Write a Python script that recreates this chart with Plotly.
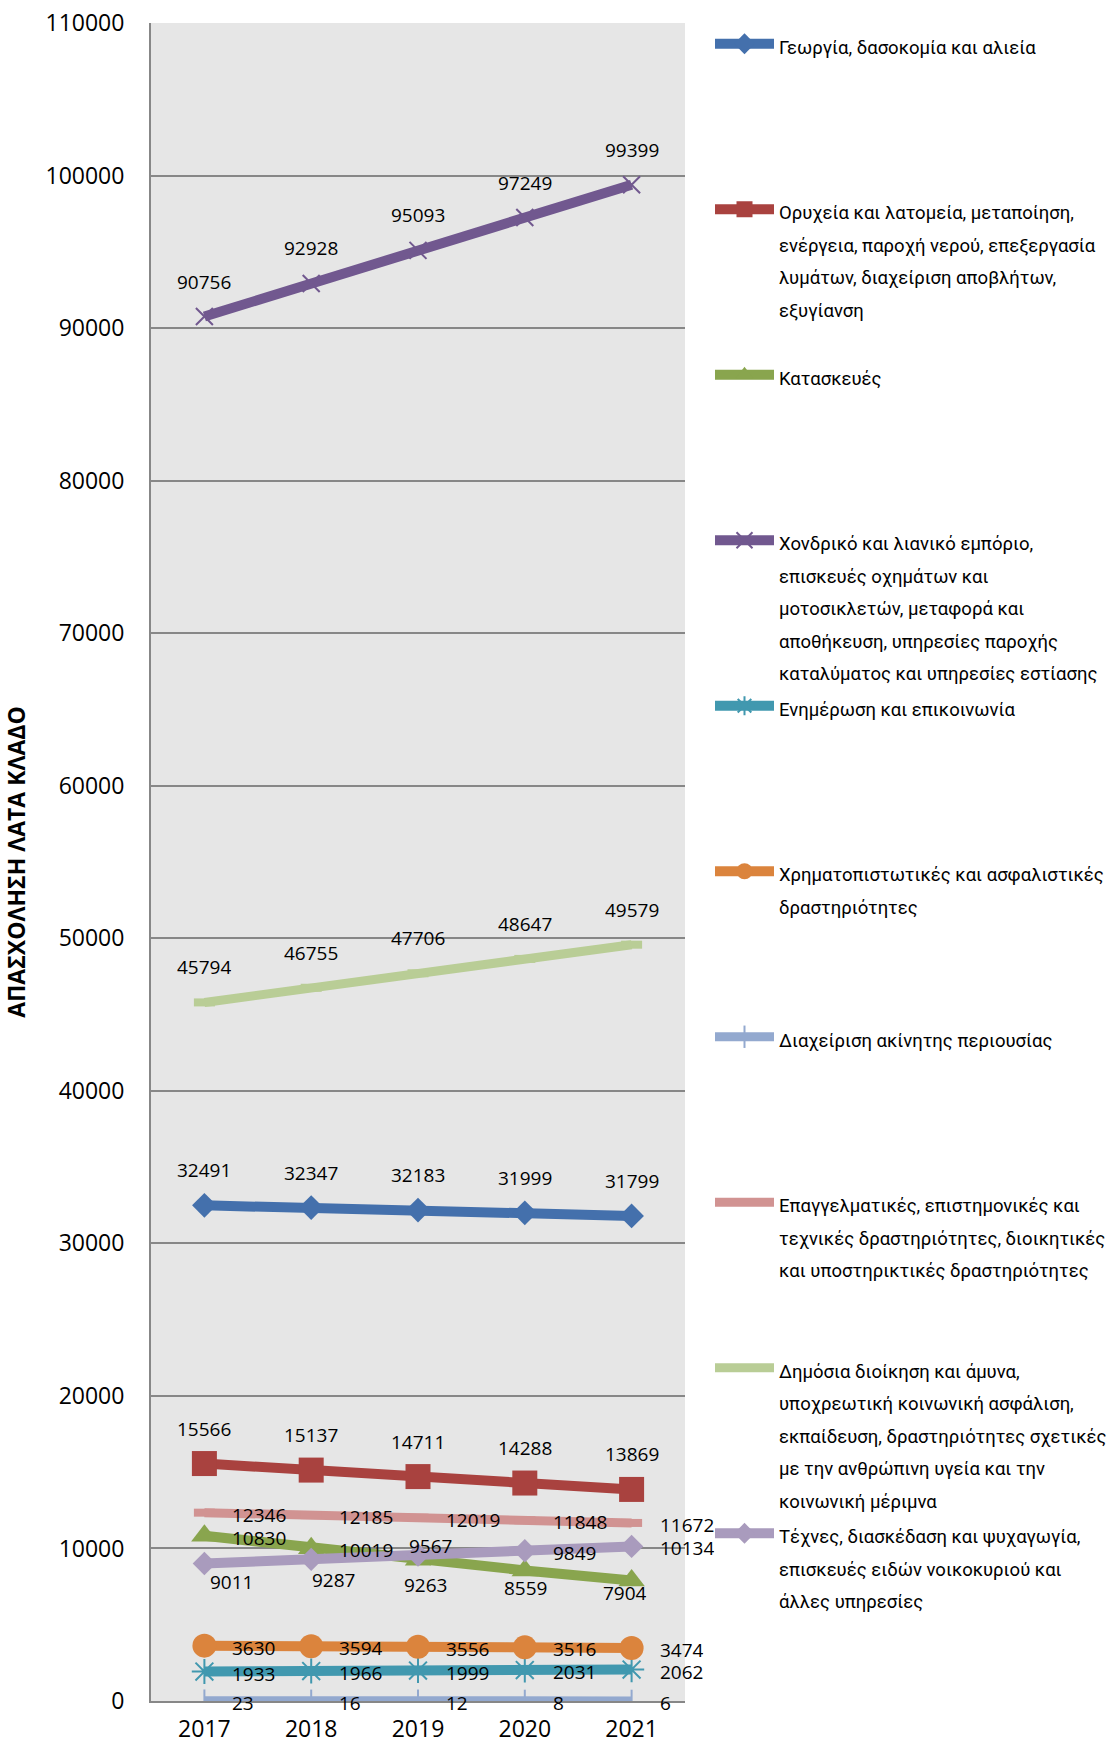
import plotly.graph_objects as go

# ---- data ----------------------------------------------------------------
years = [2017, 2018, 2019, 2020, 2021]

agriculture = [32491, 32347, 32183, 31999, 31799]
industry = [15566, 15137, 14711, 14288, 13869]
construction = [10830, 10019, 9263, 8559, 7904]
trade = [90756, 92928, 95093, 97249, 99399]
information = [1933, 1966, 1999, 2031, 2062]
finance = [3630, 3594, 3556, 3516, 3474]
real_estate = [23, 16, 12, 8, 6]
professional = [12346, 12185, 12019, 11848, 11672]
public_sector = [45794, 46755, 47706, 48647, 49579]
arts = [9011, 9287, 9567, 9849, 10134]

sector_names = [
    ["Γεωργία, δασοκομία και αλιεία"],
    ["Ορυχεία και λατομεία, μεταποίηση,",
     "ενέργεια, παροχή νερού, επεξεργασία",
     "λυμάτων, διαχείριση αποβλήτων,",
     "εξυγίανση"],
    ["Κατασκευές"],
    ["Χονδρικό και λιανικό εμπόριο,",
     "επισκευές οχημάτων και",
     "μοτοσικλετών, μεταφορά και",
     "αποθήκευση, υπηρεσίες παροχής",
     "καταλύματος και υπηρεσίες εστίασης"],
    ["Ενημέρωση και επικοινωνία"],
    ["Χρηματοπιστωτικές και ασφαλιστικές",
     "δραστηριότητες"],
    ["Διαχείριση ακίνητης περιουσίας"],
    ["Επαγγελματικές, επιστημονικές και",
     "τεχνικές δραστηριότητες, διοικητικές",
     "και υποστηρικτικές δραστηριότητες"],
    ["Δημόσια διοίκηση και άμυνα,",
     "υποχρεωτική κοινωνική ασφάλιση,",
     "εκπαίδευση, δραστηριότητες σχετικές",
     "με την ανθρώπινη υγεία και την",
     "κοινωνική μέριμνα"],
    ["Τέχνες, διασκέδαση και ψυχαγωγία,",
     "επισκευές ειδών νοικοκυριού και",
     "άλλες υπηρεσίες"],
]

y_title = "ΑΠΑΣΧΟΛΗΣΗ ΛΑΤΑ ΚΛΑΔΟ"

series_values = [agriculture, industry, construction, trade, information,
                 finance, real_estate, professional, public_sector, arts]

# ---- styling -------------------------------------------------------------
TOP = ("top",)
RIGHT = ("right",)

styles = [
    dict(color="#4470AC", symbol="diamond", size=19, mlw=0, width=10, labels=[TOP] * 5),
    dict(color="#A9423F", symbol="square", size=25, mlw=0, width=10, labels=[TOP] * 5),
    dict(color="#89A54E", symbol="triangle-up", size=23, mlw=0, width=10,
         labels=[RIGHT, RIGHT, (7, 25), (1, 18), (-7, 13)]),
    dict(color="#71588F", symbol="x-thin-open", size=17, mlw=2, width=10, labels=[TOP] * 5),
    dict(color="#4198AF", symbol="asterisk-open", size=21, mlw=2, width=10, labels=[RIGHT] * 5),
    dict(color="#DB843D", symbol="circle", size=24, mlw=0, width=10, labels=[RIGHT] * 5),
    dict(color="#93A9CF", symbol="line-ns-open", size=16, mlw=2, width=9, labels=[RIGHT] * 5),
    dict(color="#D19392", symbol="line-ew-open", size=15, mlw=8, width=9, labels=[RIGHT] * 5),
    dict(color="#B9CD96", symbol="line-ew-open", size=15, mlw=8, width=9, labels=[TOP] * 5),
    dict(color="#A99BBD", symbol="diamond", size=18, mlw=0, width=10,
         labels=[(27, 18), (22, 21), (12, -9), RIGHT, RIGHT]),
]

LABEL_FONT = dict(family="Open Sans, sans-serif", size=19, color="#000000")
TICK_FONT = dict(family="Open Sans, sans-serif", size=23, color="#000000")
GRID = "#878787"


def legend_text(lines, n_lines=5):
    # every entry occupies five text rows so the entries sit on an even pitch
    padded = lines + ["\u00a0"] * (n_lines - len(lines))
    return "<br>".join(f'<span style="font-size:18.5px">{ln}</span>' for ln in padded)


fig = go.Figure()
annotations = []

for name_lines, values, st in zip(sector_names, series_values, styles):
    fig.add_trace(go.Scatter(
        x=years, y=values, mode="lines+markers",
        name=legend_text(name_lines),
        line=dict(color=st["color"], width=st["width"]),
        marker=dict(symbol=st["symbol"], size=st["size"], color=st["color"],
                    line=dict(color=st["color"], width=st["mlw"])),
        hoverinfo="x+y",
    ))
    for yr, v, pos in zip(years, values, st["labels"]):
        # compact label boxes: digits fit well inside 20 px
        ann = dict(x=yr, y=v, xref="x", yref="y", text=str(v), showarrow=False,
                   font=LABEL_FONT, yanchor="middle", borderpad=0, height=20)
        if pos == TOP:
            ann.update(xanchor="center", xshift=0, yshift=35)
        elif pos == RIGHT:
            ann.update(xanchor="left", xshift=27, yshift=-2)
        else:
            ann.update(xanchor="center", xshift=pos[0], yshift=-pos[1])
        annotations.append(ann)

fig.update_layout(
    width=1108, height=1746, autosize=False,
    margin=dict(l=151, r=423, t=23, b=45, pad=0),
    paper_bgcolor="#FFFFFF",
    plot_bgcolor="#E6E6E6",
    showlegend=True,
    legend=dict(
        xref="container", yref="container",
        x=710 / 1108, y=1 - 21 / 1746, xanchor="left", yanchor="top",
        font=dict(family="Roboto, Open Sans, sans-serif", size=25, color="#000000"),
        itemwidth=59, valign="top", tracegroupgap=0, maxheight=1740,
        bgcolor="rgba(0,0,0,0)", borderwidth=0,
    ),
    annotations=annotations,
    xaxis=dict(
        type="linear", range=[2016.5, 2021.5],
        tickvals=years, ticktext=[str(y) for y in years],
        showgrid=False, showline=True, linecolor=GRID, linewidth=2,
        ticks="", tickfont=TICK_FONT, zeroline=False, ticklabelstandoff=6,
        automargin=False,
    ),
    yaxis=dict(
        range=[0, 110000], dtick=10000, tick0=0, tickformat="d",
        showgrid=True, gridcolor=GRID, gridwidth=2,
        showline=True, linecolor=GRID, linewidth=2,
        zeroline=False, ticks="", tickfont=TICK_FONT,
        ticklabelstandoff=20, automargin=False,
        title=dict(text=f"<b>{y_title}</b>", standoff=14,
                   font=dict(family="Open Sans, sans-serif", size=23, color="#000000")),
    ),
)

fig.write_html("out.html")
